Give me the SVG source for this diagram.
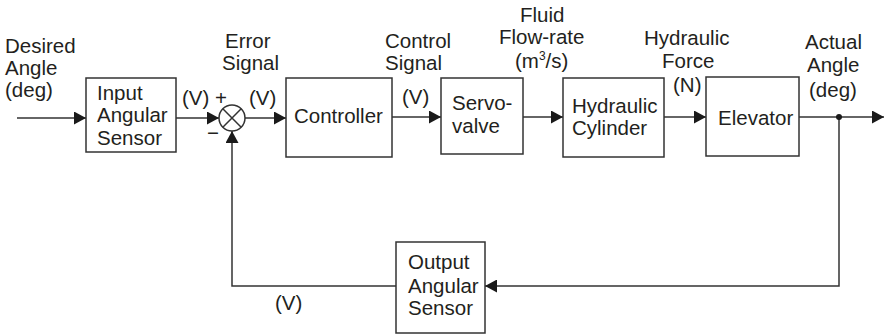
<svg xmlns="http://www.w3.org/2000/svg" width="884" height="335" viewBox="0 0 884 335">
<style>
.box{fill:#fff;stroke:#333;stroke-width:1.5}
.ln{fill:none;stroke:#333;stroke-width:1.5}
text{font-family:"Liberation Sans",Arial,sans-serif;font-size:20.5px;fill:#231f20}
</style>
<defs>
<marker id="arr" markerUnits="userSpaceOnUse" markerWidth="13" markerHeight="13" refX="12" refY="6.5" orient="auto">
<path d="M0,0 L12,6.5 L0,13 z" fill="#1a1a1a"/>
</marker>
</defs>
<rect width="884" height="335" fill="#fff"/>
<g id="connectors">
<line class="ln" x1="17" y1="118" x2="86" y2="118" marker-end="url(#arr)"/>
<line class="ln" x1="176" y1="118" x2="219" y2="118" marker-end="url(#arr)"/>
<line class="ln" x1="245" y1="118" x2="286" y2="118" marker-end="url(#arr)"/>
<line class="ln" x1="392" y1="117" x2="441" y2="117" marker-end="url(#arr)"/>
<line class="ln" x1="523" y1="117" x2="563" y2="117" marker-end="url(#arr)"/>
<line class="ln" x1="664" y1="117" x2="706" y2="117" marker-end="url(#arr)"/>
<line class="ln" x1="799" y1="117" x2="884" y2="117" marker-end="url(#arr)"/>
<polyline class="ln" points="839,117 839,286 485,286" marker-end="url(#arr)"/>
<polyline class="ln" points="396,286 232,286 232,131" marker-end="url(#arr)"/>
<circle cx="839" cy="117" r="3" fill="#1a1a1a"/>
</g>
<g id="labels">
<text x="5" y="53">Desired</text>
<text x="5" y="75">Angle</text>
<text x="5" y="97">(deg)</text>
<text x="225" y="48">Error</text>
<text x="222" y="70">Signal</text>
<text x="182" y="105">(V) +</text>
<text x="249" y="105">(V)</text>
<text x="207" y="140">−</text>
<text x="385" y="48">Control</text>
<text x="385" y="70">Signal</text>
<text x="402" y="104">(V)</text>
<text x="520" y="22">Fluid</text>
<text x="499" y="44">Flow-rate</text>
<text x="515" y="68">(m<tspan font-size="12" dy="-8">3</tspan><tspan dy="8">/s)</tspan></text>
<text x="644" y="45">Hydraulic</text>
<text x="662" y="68">Force</text>
<text x="673" y="92">(N)</text>
<text x="805" y="49">Actual</text>
<text x="807" y="72">Angle</text>
<text x="809" y="97">(deg)</text>
<text x="275" y="310">(V)</text>
</g>
<g id="input-sensor">
<rect class="box" x="86" y="78" width="90" height="74"/>
<text x="97" y="100">Input</text>
<text x="97" y="122">Angular</text>
<text x="97" y="145">Sensor</text>
</g>
<g id="summing-junction">
<circle class="box" cx="232" cy="118" r="13"/>
<path class="ln" d="M222.8,108.8 L241.2,127.2 M241.2,108.8 L222.8,127.2"/>
</g>
<g id="controller">
<rect class="box" x="286" y="78" width="106" height="79"/>
<text x="294" y="123">Controller</text>
</g>
<g id="servovalve">
<rect class="box" x="441" y="78" width="82" height="76"/>
<text x="452" y="110">Servo-</text>
<text x="452" y="133">valve</text>
</g>
<g id="hydraulic-cylinder">
<rect class="box" x="563" y="78" width="101" height="79"/>
<text x="572" y="113">Hydraulic</text>
<text x="572" y="135">Cylinder</text>
</g>
<g id="elevator">
<rect class="box" x="706" y="77" width="93" height="79"/>
<text x="718" y="125">Elevator</text>
</g>
<g id="output-sensor">
<rect class="box" x="396" y="242" width="89" height="91"/>
<text x="408" y="269">Output</text>
<text x="408" y="293">Angular</text>
<text x="408" y="315">Sensor</text>
</g>
</svg>
